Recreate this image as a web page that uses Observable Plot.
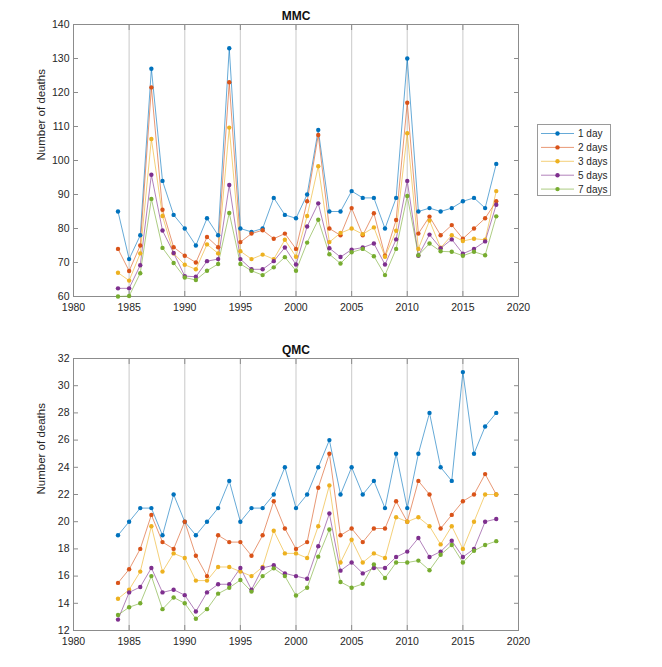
<!DOCTYPE html>
<html>
<head>
<meta charset="utf-8">
<script src="https://cdn.jsdelivr.net/npm/d3@7"></script>
<script src="https://cdn.jsdelivr.net/npm/@observablehq/plot@0.6"></script>
<style>
  html, body { margin: 0; padding: 0; background: #fff; }
  #wrap { position: relative; width: 662px; height: 667px; overflow: hidden; background: #fff; font-family: "Liberation Sans", Arial, sans-serif; }
  #top { position: absolute; left: 0; top: 0; }
  #bottom { position: absolute; left: 0; top: 330px; }
  #legend { position: absolute; left: 537px; top: 124px; width: 74px; height: 72px; border: 1px solid #9a9a9a; background: #fff; box-sizing: border-box; }
</style>
</head>
<body>
<div id="wrap">
  <div id="top"></div>
  <div id="bottom"></div>
  <div id="legend"></div>
</div>
<script>
const years = [1984,1985,1986,1987,1988,1989,1990,1991,1992,1993,1994,1995,1996,1997,1998,1999,2000,2001,2002,2003,2004,2005,2006,2007,2008,2009,2010,2011,2012,2013,2014,2015,2016,2017,2018];
const seriesNames = ["1 day", "2 days", "3 days", "5 days", "7 days"];
const seriesColors = ["#0072BD", "#D95319", "#EDB120", "#7E2F8E", "#77AC30"];
const xTicks = [1980,1985,1990,1995,2000,2005,2010,2015,2020];

// MMC
const mmc1 = [85,71,78,127,94,84,80,75,83,78,133,80,79,80,89,84,83,90,109,85,85,91,89,89,80,89,130,85,86,85,86,88,89,86,99];
const mmc2 = [74,67.5,75,121.5,85.5,74.5,72,70,77.5,74.5,123,76,78.5,79.5,77,78.5,74,88,107.5,80,78,86,78,84.5,72,82.5,117,78.5,83.5,78,81,77,80,83,88];
const mmc3 = [67,64.67,72.67,106.33,83.67,72.67,69.33,68,75.33,72.67,109.67,73.33,71,72.33,71,76.67,71.67,83.67,98.33,76,78.67,80,78.33,80.33,71.67,79.33,108,74,82.33,74.33,78,76.33,77,76.67,91];
const mmc5 = [62.4,62.4,69.2,95.8,79.4,72.8,66,65.8,70.4,71,92.8,71,68,68,70.4,74.4,69.4,80.6,87.4,74.2,71.6,73.8,74.4,75.6,69.4,76.8,94,72,78.2,74.2,76.8,72.6,74,76.2,87];
const mmc7 = [60,60.14,66.86,88.71,74.29,69.86,65.57,64.86,67.57,69.57,84.57,69.57,67.57,66.29,68.57,71.57,67.57,75.86,82.57,72.43,69.71,73,74,71.86,66.29,74,89.57,72.14,75.57,73.29,73.14,72,73.14,72.14,83.57];
const mmcTicks = [60,70,80,90,100,110,120,130,140];

// QMC
const qmc1 = [19,20,21,21,19,22,20,19,20,21,23,20,21,21,22,24,21,22,24,26,22,24,22,23,21,25,21,25,28,24,23,31,25,27,28];
const qmc2 = [15.5,16.5,18,20.5,18.5,18,20,17.5,16,19,18.5,18.5,17.5,19,21.5,19.5,18,18.5,22.5,25,19,19.5,18.5,19.5,19.5,21.5,20,23,22,19.5,20.5,21.5,22,23.5,22];
const qmc3 = [14.33,15,16.33,19.67,16.33,17.67,17.33,15.67,15.67,16.67,16.67,16.33,16,16.67,19.33,17.67,17.67,17.33,19.67,22.67,17,18.67,17,17.67,17.33,20.33,20,20.33,19.67,18.33,19.67,18,20,22,22];
const qmc5 = [12.8,14.8,15.2,16.6,14.8,15,14.6,13.4,14.8,15.4,15.4,16.6,15,16.6,16.8,16.2,16,15.8,18.2,20.6,16.4,17,16.2,16.6,16.6,17.4,17.8,18.8,17.4,17.8,18.6,17.4,18,20,20.2];
const qmc7 = [13.14,13.71,14,16,13.57,14.43,14,12.86,13.57,14.71,15.14,15.71,14.86,16,16.57,16,14.57,15.14,17.43,19.43,15.57,15.14,15.43,16.86,15.86,17,17,17.14,16.43,17.57,18.29,17,17.86,18.29,18.57];
const qmcTicks = [12,14,16,18,20,22,24,26,28,30,32];

function tidy(arrays) {
  const out = [];
  arrays.forEach((arr, s) => years.forEach((yr, i) => out.push({year: yr, value: arr[i], series: seriesNames[s]})));
  return out;
}

const axisGray = "#8c8c8c";
const textColor = "#262626";

function panel({data, title, yDomain, yTicks, height, marginTop, marginBottom, titleDy}) {
  return Plot.plot({
    width: 662,
    height,
    marginLeft: 73,
    marginRight: 144,
    marginTop,
    marginBottom,
    style: {fontFamily: "'Liberation Sans', Arial, sans-serif", fontSize: "10.5px", color: textColor, background: "white", overflow: "visible"},
    x: {domain: [1980, 2020]},
    y: {domain: yDomain},
    color: {domain: seriesNames, range: seriesColors},
    marks: [
      Plot.gridX(xTicks.slice(1, -1), {stroke: "#d2d2d2", strokeOpacity: 1, strokeWidth: 1.2}),
      Plot.frame({stroke: axisGray, strokeWidth: 1}),
      Plot.axisX(xTicks, {anchor: "bottom", tickSize: -5, fill: "none", stroke: axisGray, label: null}),
      Plot.axisX(xTicks, {anchor: "top", tickSize: -5, fill: "none", stroke: axisGray, label: null}),
      Plot.axisY(yTicks, {anchor: "left", tickSize: -5, fill: "none", stroke: axisGray, label: null}),
      Plot.axisY(yTicks, {anchor: "right", tickSize: -5, fill: "none", stroke: axisGray, label: null}),
      Plot.axisX(xTicks, {anchor: "bottom", tickSize: 0, tickPadding: 7, label: null, fill: textColor, tickFormat: d => String(d)}),
      Plot.axisY(yTicks, {anchor: "left", tickSize: 0, tickPadding: 4, label: null, fill: textColor, tickFormat: d => String(d)}),
      Plot.line(data, {x: "year", y: "value", z: "series", stroke: "series", strokeWidth: 1, strokeOpacity: 0.6}),
      Plot.dot(data, {x: "year", y: "value", fill: "series", r: 2.2}),
      Plot.text([title], {frameAnchor: "top", lineAnchor: "middle", dy: titleDy, fontWeight: "bold", fontSize: 12, fill: "#111"}),
      Plot.text(["Number of deaths"], {frameAnchor: "left", dx: -32, rotate: -90, fontSize: 11.5, fill: textColor})
    ]
  });
}

document.getElementById("top").append(panel({
  data: tidy([mmc1, mmc2, mmc3, mmc5, mmc7]),
  title: "MMC", yDomain: [60, 140], yTicks: mmcTicks,
  height: 330, marginTop: 24, marginBottom: 34, titleDy: -8.5
}));

document.getElementById("bottom").append(panel({
  data: tidy([qmc1, qmc2, qmc3, qmc5, qmc7]),
  title: "QMC", yDomain: [12, 32], yTicks: qmcTicks,
  height: 337, marginTop: 28, marginBottom: 37, titleDy: -8
}));

// Legend
const ns = "http://www.w3.org/2000/svg";
const lsvg = document.createElementNS(ns, "svg");
lsvg.setAttribute("width", 72);
lsvg.setAttribute("height", 70);
lsvg.style.display = "block";
seriesNames.forEach((name, i) => {
  const y = 8.5 + i * 13.9;
  const line = document.createElementNS(ns, "line");
  line.setAttribute("x1", 3); line.setAttribute("x2", 36);
  line.setAttribute("y1", y); line.setAttribute("y2", y);
  line.setAttribute("stroke", seriesColors[i]); line.setAttribute("stroke-opacity", 0.6); line.setAttribute("stroke-width", 1);
  lsvg.appendChild(line);
  const c = document.createElementNS(ns, "circle");
  c.setAttribute("cx", 19.5); c.setAttribute("cy", y); c.setAttribute("r", 2.2);
  c.setAttribute("fill", seriesColors[i]);
  lsvg.appendChild(c);
  const t = document.createElementNS(ns, "text");
  t.setAttribute("x", 40); t.setAttribute("y", y);
  t.setAttribute("dy", "0.35em");
  t.setAttribute("font-size", "10px");
  t.setAttribute("font-family", "'Liberation Sans', Arial, sans-serif");
  t.setAttribute("fill", textColor);
  t.textContent = name;
  lsvg.appendChild(t);
});
document.getElementById("legend").appendChild(lsvg);
</script>
</body>
</html>
